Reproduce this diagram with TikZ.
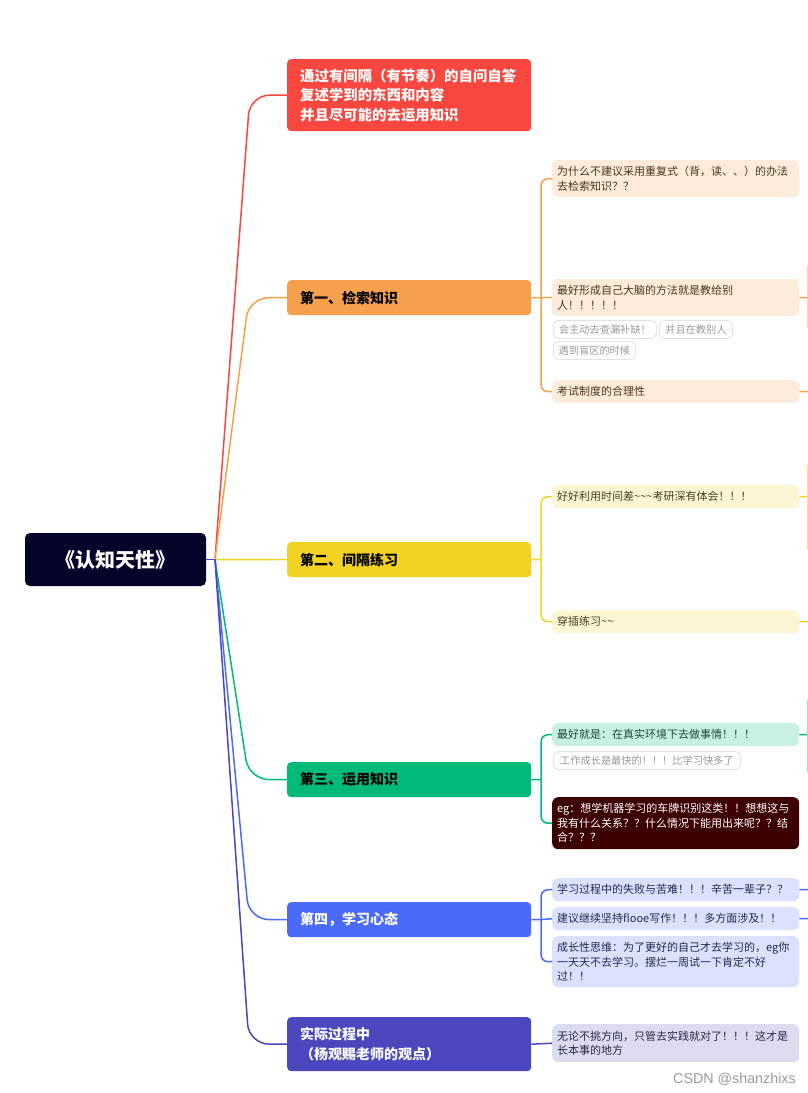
\documentclass[tikz,border=0pt]{standalone}
\usepackage{fontspec}
\setmainfont{Noto Sans CJK SC}
\newfontfamily\wmfont{Liberation Sans}
\definecolor{cRoot}{HTML}{04042A}
\definecolor{cRed}{HTML}{F9463E}
\definecolor{cOrange}{HTML}{F5A04D}
\definecolor{cYellow}{HTML}{F2D222}
\definecolor{cGreen}{HTML}{00BA7A}
\definecolor{cBlue}{HTML}{4A6BFA}
\definecolor{cIndigo}{HTML}{4B47BE}
\definecolor{cMaroon}{HTML}{3D0000}
\definecolor{oLight}{HTML}{FDEBDC}
\definecolor{yLight}{HTML}{FDF6D5}
\definecolor{gLight}{HTML}{C9F1E3}
\definecolor{bLight}{HTML}{DCE2FD}
\definecolor{iLight}{HTML}{DCDCF0}
\definecolor{oText}{HTML}{4A3520}
\definecolor{yText}{HTML}{45401E}
\definecolor{gText}{HTML}{1C4A3A}
\definecolor{bText}{HTML}{222850}
\definecolor{iText}{HTML}{28284A}
\definecolor{tagBorder}{HTML}{E2E2E2}
\definecolor{tagGray}{HTML}{999999}
\definecolor{oEdge}{HTML}{F9D5B5}
\definecolor{yEdge}{HTML}{F6E48A}
\definecolor{gEdge}{HTML}{9FE0C6}
\begin{document}
\begin{tikzpicture}[x=1pt,y=-1pt,
  conn/.style={line width=1.5pt},
  mainbox/.style={rounded corners=4pt, inner xsep=13pt, inner ysep=0pt, anchor=north west,
    align=left, text width=218pt, font=\fontsize{14}{19.5}\selectfont\bfseries},
  childbox/.style={rounded corners=6pt, inner xsep=5pt, inner ysep=0pt, anchor=north west,
    align=left, text width=237pt, minimum height=23pt, font=\fontsize{11}{14.5}\selectfont},
  tagbox/.style={rounded corners=5pt, draw=tagBorder, fill=white, line width=0.8pt, text=tagGray,
    inner xsep=4pt, inner ysep=0pt, anchor=north west, minimum height=18pt,
    font=\fontsize{10.2}{12}\selectfont},
  rootbox/.style={rounded corners=5pt, fill=cRoot, text=white, minimum width=181pt,
    minimum height=53pt, inner sep=0pt, font=\fontsize{20}{24}\selectfont\bfseries}
]
\useasboundingbox (0,0) rectangle (808,1093);
\clip (0,0) rectangle (808,1093);
\fill[white] (0,0) rectangle (808,1093);

% root
\node[rootbox] (root) at (115.5,559.5) {《认知天性》};
\coordinate (fan) at (215,559.5);

% main branches
\node[mainbox, fill=cRed, text=white, minimum height=72pt, font=\fontsize{14.4}{19.5}\selectfont\bfseries] (b0) at (287,59)
  {通过有间隔（有节奏）的自问自答\\复述学到的东西和内容\\并且尽可能的去运用知识};
\node[mainbox, fill=cOrange, minimum height=35pt] (b1) at (287,280) {第一、检索知识};
\node[mainbox, fill=cYellow, minimum height=35pt] (b2) at (287,542) {第二、间隔练习};
\node[mainbox, fill=cGreen, minimum height=35pt] (b3) at (287,762) {第三、运用知识};
\node[mainbox, fill=cBlue, text=white, minimum height=35pt] (b4) at (287,902) {第四，学习心态};
\node[mainbox, fill=cIndigo, text=white, minimum height=54pt] (b5) at (287,1017) {实际过程中\\（杨观赐老师的观点）};

\draw[conn, cIndigo] (root.east) -- (fan);
\draw[conn, cRed, rounded corners=20pt] (fan) -- (250,95) -- (b0.west);
\draw[conn, cOrange, rounded corners=20pt] (fan) -- (249,297.5) -- (b1.west);
\draw[conn, cYellow] (fan) -- (b2.west);
\draw[conn, cGreen, rounded corners=20pt] (fan) -- (249,779.5) -- (b3.west);
\draw[conn, cBlue, rounded corners=20pt] (fan) -- (249,919.5) -- (b4.west);
\draw[conn, cIndigo, rounded corners=20pt] (fan) -- (249,1044) -- (b5.west);

% orange children
\node[childbox, fill=oLight, text=oText, minimum height=37pt] (c1a) at (552,160)
  {为什么不建议采用重复式（背，读、、）的办法\\去检索知识？？};
\node[childbox, fill=oLight, text=oText, minimum height=37pt] (c1b) at (552,279)
  {最好形成自己大脑的方法就是教给别\\人！！！！！};
\node[tagbox, minimum width=103pt] (t1) at (553,320) {会主动去查漏补缺！};
\node[tagbox, minimum width=73pt] (t2) at (659,320) {并且在教别人};
\node[tagbox, minimum width=82pt] (t3) at (553,341) {遇到盲区的时候};
\node[childbox, fill=oLight, text=oText] (c1c) at (552,380) {考试制度的合理性};
\coordinate (j1) at (541,297.5);
\draw[conn, cOrange] (b1.east) -- (j1) -- (c1b.west);
\draw[conn, cOrange, rounded corners=7pt] (j1) |- (c1a.west);
\draw[conn, cOrange, rounded corners=7pt] (j1) |- (c1c.west);

% yellow children
\node[childbox, fill=yLight, text=yText] (c2a) at (552,485)
  {好好利用时间差\textasciitilde\textasciitilde\textasciitilde 考研深有体会！！！};
\node[childbox, fill=yLight, text=yText] (c2b) at (552,610) {穿插练习\textasciitilde\textasciitilde};
\coordinate (j2) at (541,559.5);
\draw[conn, cYellow] (b2.east) -- (j2);
\draw[conn, cYellow, rounded corners=7pt] (j2) |- (c2a.west);
\draw[conn, cYellow, rounded corners=7pt] (j2) |- (c2b.west);

% green children
\node[childbox, fill=gLight, text=gText] (c3a) at (552,723) {最好就是：在真实环境下去做事情！！！};
\node[tagbox, minimum width=187pt] (t4) at (553,751) {工作成长是最快的！！！比学习快多了};
\node[childbox, fill=cMaroon, text=white, minimum height=52pt] (c3b) at (552,797)
  {eg：想学机器学习的车牌识别这类！！想想这与\\我有什么关系？？什么情况下能用出来呢？？结\\合？？？};
\coordinate (j3) at (541,779.5);
\draw[conn, cGreen] (b3.east) -- (j3);
\draw[conn, cGreen, rounded corners=7pt] (j3) |- (c3a.west);
\draw[conn, cGreen, rounded corners=7pt] (j3) |- (c3b.west);

% blue children
\node[childbox, fill=bLight, text=bText] (c4a) at (552,878) {学习过程中的失败与苦难！！！辛苦一辈子？？};
\node[childbox, fill=bLight, text=bText] (c4b) at (552,907) {建议继续坚持flooe写作！！！多方面涉及！！};
\node[childbox, fill=bLight, text=bText, minimum height=51pt] (c4c) at (552,936)
  {成长性思维：为了更好的自己才去学习的，eg你\\一天天不去学习。摆烂一周试一下肯定不好\\过！！};
\coordinate (j4) at (541,919.5);
\draw[conn, cBlue] (b4.east) -- (j4) -- (c4b.west);
\draw[conn, cBlue, rounded corners=7pt] (j4) |- (c4a.west);
\draw[conn, cBlue, rounded corners=7pt] (j4) |- (c4c.west);

% indigo child
\node[childbox, fill=iLight, text=iText, minimum height=38pt] (c5a) at (552,1024)
  {无论不挑方向，只管去实践就对了！！！这才是\\长本事的地方};
\draw[conn, cIndigo] (b5.east) -- (c5a.west);

% stubs to clipped right column
\coordinate (r1) at (808,297.5);
\coordinate (r2) at (808,391.5);
\coordinate (r3) at (808,496.5);
\coordinate (r4) at (808,621.5);
\coordinate (r5) at (808,734.5);
\coordinate (r6) at (808,889.5);
\coordinate (r7) at (808,918.5);
\draw[conn, cOrange] (c1b.east) -- (r1);
\draw[conn, cOrange] (c1c.east) -- (r2);
\draw[conn, cYellow] (c2a.east) -- (r3);
\draw[conn, cYellow] (c2b.east) -- (r4);
\draw[conn, cGreen] (c3a.east) -- (r5);
\draw[conn, cBlue] (c4a.east) -- (r6);
\draw[conn, cBlue] (c4b.east) -- (r7);
\fill[oEdge] (806.5,265) rectangle (809,328);
\fill[yEdge] (806.5,465) rectangle (809,550);
\fill[gEdge] (806.5,700) rectangle (809,772);

% watermark
\node[anchor=base west, inner sep=0pt, text=tagGray, font=\wmfont\fontsize{14.3}{16}\selectfont] (wm) at (673,1083) {CSDN @shanzhixs};
\end{tikzpicture}
\end{document}
